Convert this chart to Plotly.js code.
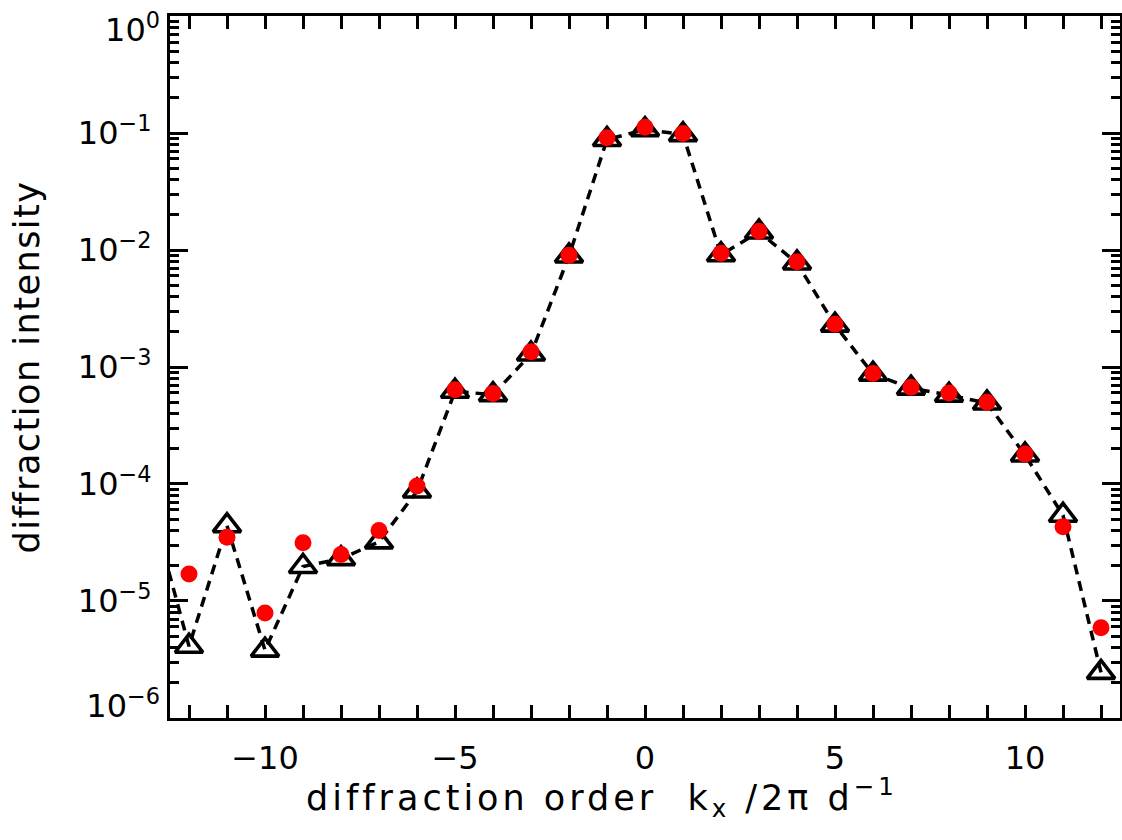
<!DOCTYPE html>
<html>
<head>
<meta charset="utf-8">
<script src="https://cdn.plot.ly/plotly-3.0.1.min.js"></script>
<style>
  html, body { margin: 0; padding: 0; background: #fff; }
  #chart { width: 1122px; height: 840px; }
</style>
</head>
<body>
<div id="chart"></div>
<script>
// Diffraction orders
const orders = [-12, -11, -10, -9, -8, -7, -6, -5, -4, -3, -2, -1, 0, 1, 2, 3, 4, 5, 6, 7, 8, 9, 10, 11, 12];

// Measured intensities (red filled circles)
const measured = [1.7e-5, 3.5e-5, 7.9e-6, 3.15e-5, 2.5e-5, 4.0e-5, 9.6e-5, 6.4e-4, 5.95e-4, 1.35e-3,
                  9.0e-3, 0.091, 0.112, 0.099, 9.4e-3, 0.0145, 7.95e-3, 2.32e-3, 8.8e-4, 6.7e-4,
                  6.0e-4, 5.0e-4, 1.8e-4, 4.3e-5, 5.9e-6];

// Calculated intensities (open triangles joined by dashed line); the first order (-13) lies just outside the frame
const calcOrders = [-13, -12, -11, -10, -9, -8, -7, -6, -5, -4, -3, -2, -1, 0, 1, 2, 3, 4, 5, 6, 7, 8, 9, 10, 11, 12];
const calculated = [6.5e-5, 4.1e-6, 4.4e-5, 3.8e-6, 1.97e-5, 2.3e-5, 3.2e-5, 8.7e-5, 6.2e-4, 5.8e-4, 1.29e-3,
                    8.9e-3, 0.088, 0.107, 0.097, 9.1e-3, 0.01425, 7.75e-3, 2.28e-3, 8.7e-4, 6.6e-4,
                    5.75e-4, 4.92e-4, 1.77e-4, 5.4e-5, 2.45e-6];

// Axis tick labels
const yTickVals = [1e-6, 1e-5, 1e-4, 1e-3, 1e-2, 1e-1, 1];
const yTickText = ['10<sup>\u22126</sup>', '10<sup>\u22125</sup>', '10<sup>\u22124</sup>', '10<sup>\u22123</sup>',
                   '10<sup>\u22122</sup>', '10<sup>\u22121</sup>', '10<sup>0</sup>'];
const xTitle = 'diffraction order  k<sub>x</sub> /2\u03c0 d<sup>\u22121</sup>';
const yTitle = 'diffraction intensity';

const FONT = 'DejaVu Sans, Verdana, sans-serif';
const YRANGE = [-6.0005, 0.0005];
const STANDOFF = 9;

// inner labels on the main axis; the two end labels sit on overlay axes, nudged inward like the original
const innerText = yTickText.map((t, i) => (i === 0 || i === yTickText.length - 1) ? '' : t);

const traces = [
  {
    x: calcOrders, y: calculated, type: 'scatter', mode: 'lines+markers', yaxis: 'y',
    line: {color: 'black', width: 3.5, dash: '10px,7px'},
    marker: {symbol: 'triangle-up-open', size: 24, color: 'black', line: {width: 3.6, color: 'black'}},
    hoverinfo: 'x+y', showlegend: false
  },
  {
    // empty helper trace so that the overlay axis carrying the 10^0 label is drawn
    x: [], y: [], type: 'scatter', mode: 'markers', yaxis: 'y2', hoverinfo: 'skip', showlegend: false
  },
  {
    x: orders, y: measured, type: 'scatter', mode: 'markers', yaxis: 'y3',
    marker: {symbol: 'circle', size: 17, color: '#ff0000', line: {width: 0}},
    hoverinfo: 'x+y', showlegend: false
  }
];

function endLabelAxis(idx, shift) {
  return {
    overlaying: 'y', side: 'left', type: 'log', range: YRANGE,
    tickmode: 'array', tickvals: [yTickVals[idx]], ticktext: [yTickText[idx]],
    ticks: '', showline: false, showgrid: false, zeroline: false,
    tickfont: {family: FONT, size: 32, color: 'black'},
    ticklabelstandoff: STANDOFF, ticklabeloverflow: 'allow', ticklabelshift: shift
  };
}

const layout = {
  width: 1122, height: 840,
  margin: {l: 170, r: 2, t: 16, b: 122, pad: 0},
  paper_bgcolor: '#ffffff', plot_bgcolor: '#ffffff',
  font: {family: FONT, size: 32, color: 'black'},
  showlegend: false,
  xaxis: {
    range: [-12.5, 12.5], tickmode: 'linear', tick0: 0, dtick: 5,
    ticks: 'inside', ticklen: 13, tickwidth: 3, tickcolor: 'black',
    minor: {ticks: 'inside', dtick: 1, tick0: 0, ticklen: 7, tickwidth: 3, tickcolor: 'black', showgrid: false},
    showline: true, linewidth: 3, linecolor: 'black', mirror: 'allticks',
    showgrid: false, zeroline: false,
    tickfont: {family: FONT, size: 32, color: 'black'},
    ticklabelstandoff: 10, ticklabeloverflow: 'allow'
  },
  yaxis: {
    type: 'log', range: YRANGE, tickmode: 'array', tickvals: yTickVals, ticktext: innerText,
    ticks: 'inside', ticklen: 18, tickwidth: 3, tickcolor: 'black',
    minor: {ticks: 'inside', dtick: 'D1', ticklen: 9, tickwidth: 3, tickcolor: 'black', showgrid: false},
    showline: true, linewidth: 3, linecolor: 'black', mirror: 'allticks',
    showgrid: false, zeroline: false,
    tickfont: {family: FONT, size: 32, color: 'black'},
    ticklabelstandoff: STANDOFF, ticklabeloverflow: 'allow'
  },
  yaxis2: endLabelAxis(yTickVals.length - 1, 14),
  yaxis3: endLabelAxis(0, -12),
  annotations: [
    {text: '<span style="letter-spacing:4px">' + xTitle + '</span>', xref: 'paper', yref: 'paper',
     x: 0.455, y: -0.113, xanchor: 'center', yanchor: 'middle',
     showarrow: false, font: {family: FONT, size: 35, color: 'black'}},
    {text: '<span style="letter-spacing:1.5px">' + yTitle + '</span>', xref: 'paper', yref: 'paper',
     x: -0.151, y: 0.5, xanchor: 'center', yanchor: 'middle',
     textangle: -90, showarrow: false, font: {family: FONT, size: 35, color: 'black'}}
  ]
};

Plotly.newPlot('chart', traces, layout, {displayModeBar: false, staticPlot: true});
</script>
</body>
</html>
